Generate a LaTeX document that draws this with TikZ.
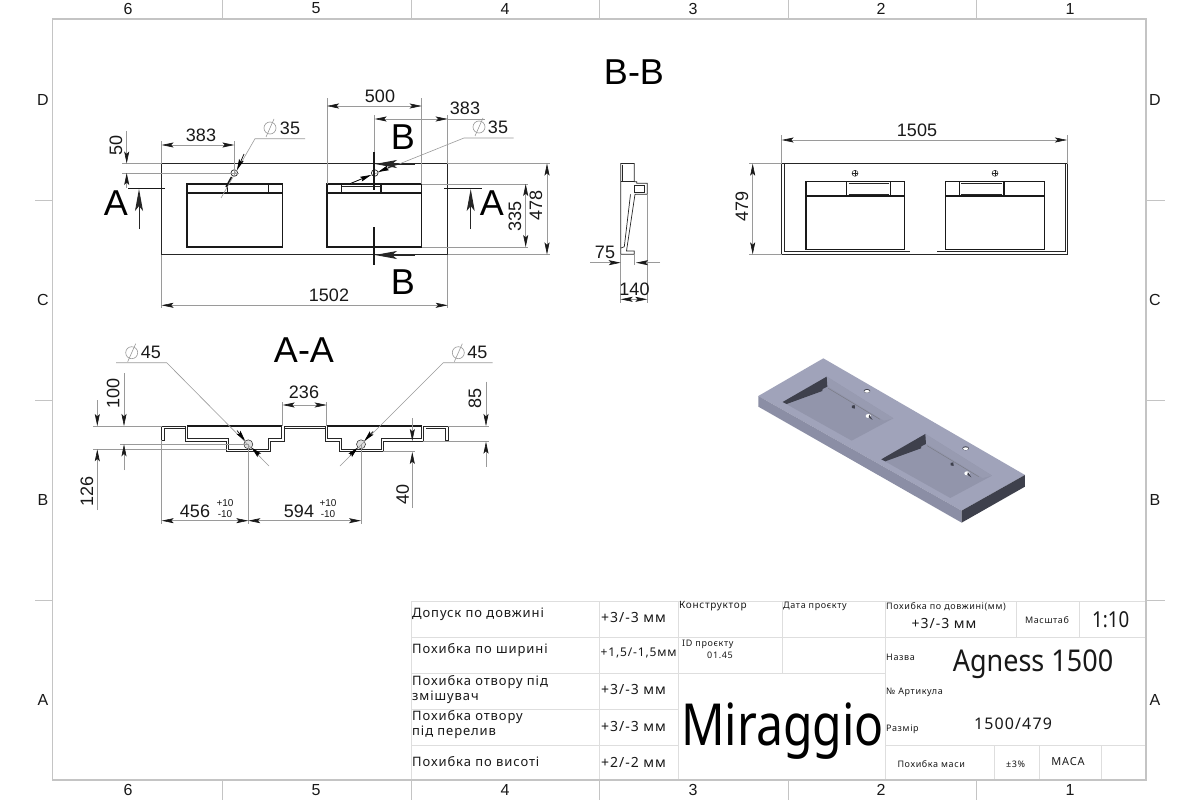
\documentclass[tikz,border=0pt]{standalone}
\usepackage{fontspec}
\setmainfont{Liberation Sans}
\newfontfamily\gostfont[LetterSpace=7]{Noto Sans}
\newfontfamily\brandfont{Noto Sans}
\usetikzlibrary{arrows.meta}
\definecolor{framegrey}{HTML}{C4C4C4}
\definecolor{gridgrey}{HTML}{DEDEDE}
\definecolor{dimgrey}{HTML}{9A9A9A}
\definecolor{faceTop}{HTML}{A0A3BA}
\definecolor{faceFront}{HTML}{8B8EA5}
\definecolor{faceDark}{HTML}{3E404C}
\definecolor{faceFloor}{HTML}{9295AB}
\definecolor{faceWall}{HTML}{989BB1}
\newcommand{\fs}[1]{\fontsize{#1}{#1}\selectfont}
\tikzset{
  framel/.style={draw=framegrey, line width=1.3pt},
  grid/.style={draw=gridgrey, line width=0.8pt},
  obj/.style={draw=black!85, line width=0.7pt},
  heavy/.style={draw=black!90, line width=1.5pt},
  dimen/.style={draw=dimgrey, line width=0.6pt},
  dimtip/.style={{Stealth[length=12pt,width=5pt,inset=2.5pt,color=black!90]}-{Stealth[length=12pt,width=5pt,inset=2.5pt,color=black!90]}, dimen},
  endtip/.style={-{Stealth[length=12pt,width=5pt,inset=2.5pt,color=black!90]}, dimen},
  cuttip/.style={-{Stealth[length=22pt,width=8pt,inset=5pt]}, draw=black!85, line width=0.9pt},
  holetip/.style={-{Stealth[length=11pt,width=5pt,inset=2pt,color=black]}, draw=black, line width=0.7pt},
  dimnum/.style={inner sep=0pt, text=black!90, font=\fs{18}},
  secnum/.style={inner sep=0pt, text=black, font=\fs{36}},
  zonenum/.style={inner sep=0pt, text=black!90, font=\fs{16}},
  tol/.style={inner sep=0pt, text=black!90, font=\fs{10}},
  tbl/.style={inner sep=0pt, anchor=west, text=black!90, font=\gostfont\fs{13}},
  tblsmall/.style={tbl, font=\gostfont\fs{9}},
  tblval/.style={inner sep=0pt, text=black!90, font=\gostfont\fs{14}},
  phimark/.pic={
    \draw[dimen] (0,0) circle (6);
    \draw[dimen] (-4,9) -- (4,-9);
  },
}
\begin{document}
\begin{tikzpicture}[x=1pt,y=-1pt]
\useasboundingbox[fill=white] (0,0) rectangle (1200,800);
% sheet frame and zones
\draw[framel] (52.5,19) rectangle (1146,780);
\foreach \x in {222,411,599,788,976} {
  \draw[framel, line width=0.8pt] (\x,0) -- (\x,19);
  \draw[framel, line width=0.8pt] (\x,780) -- (\x,800);
}
\foreach \y in {200,400,600} {
  \draw[framel, line width=0.8pt] (35,\y) -- (52.5,\y);
  \draw[framel, line width=0.8pt] (1146,\y) -- (1165,\y);
}
\foreach \n/\x in {6/128,5/316,4/505,3/693,2/881,1/1070} {
  \node[zonenum] (top\n) at (\x,8.5) {\n};
  \node[zonenum] (bot\n) at (\x,790) {\n};
}
\foreach \n/\y in {D/100,C/300,B/500,A/700} {
  \node[zonenum] (left\n) at (43,\y) {\n};
  \node[zonenum] (right\n) at (1155,\y) {\n};
}
% front view
\draw[obj] (161.6,163.5) rectangle (447.7,254.5);
\foreach \a/\b/\c/\d in {187/282.3/227.7/268.3, 327/421.7/341.7/381} {
  \draw[heavy] (\a,184) rectangle (\b,247);
  \draw[heavy] (\a,193) -- (\b,193);
  \draw[heavy] (\c,184) -- (\c,193);
  \draw[heavy] (\d,184) -- (\d,193);
}
\draw[obj, line width=0.5pt] (341.7,186) -- (381,186);
\draw[obj] (234.3,173) circle (3.3);
\draw[obj] (374.7,173) circle (3.3);
\draw[dimen] (230,173) -- (238.5,173) (234.3,169) -- (234.3,177);
% dimensions of the front view
\draw[dimen] (161.6,163.5) -- (161.6,141);
\draw[dimen] (234.3,173) -- (234.3,141);
\draw[dimtip] (161.6,145) -- (234.3,145);
\node[dimnum] (d383a) at (201,135) {383};
\draw[dimen] (305,138.7) -- (255,138.7) -- (221,198);
\draw[holetip] (244,154) -- (237,170);
\draw[heavy] (226,187) -- (231.5,177);
\draw (270,128) pic {phimark};
\node[dimnum] (d35a) at (290,128) {35};
\draw[dimen] (122,163.5) -- (161.6,163.5);
\draw[dimen] (122,173) -- (230,173);
\draw[endtip] (126.7,131) -- (126.7,163.5);
\draw[endtip] (126.7,188) -- (126.7,173);
\node[dimnum, rotate=90] (d50) at (116,145) {50};
\draw[dimen] (327,184) -- (327,98);
\draw[dimen] (421.7,184) -- (421.7,98);
\draw[dimtip] (327,106) -- (421.7,106);
\node[dimnum] (d500) at (380,96) {500};
\draw[dimen] (374.7,173) -- (374.7,115);
\draw[dimen] (447.7,163.5) -- (447.7,115);
\draw[dimtip] (374.7,119) -- (447.7,119);
\draw[dimen] (447.7,119) -- (485,119);
\node[dimnum] (d383b) at (465,108) {383};
\draw[dimen] (513.6,138) -- (464,138) -- (350,183.7);
\draw[holetip] (395,165) -- (378,172);
\draw[holetip] (350,183.7) -- (371,175);
\draw (479,127) pic {phimark};
\node[dimnum] (d35b) at (498,127) {35};
\draw[dimen] (421.7,184) -- (528,184);
\draw[dimen] (421.7,247) -- (528,247);
\draw[dimtip] (525.7,184) -- (525.7,247);
\node[dimnum, rotate=90] (d335) at (515,216) {335};
\draw[dimen] (447.7,163.5) -- (550,163.5);
\draw[dimen] (447.7,254.5) -- (550,254.5);
\draw[dimtip] (547,163.5) -- (547,254.5);
\node[dimnum, rotate=90] (d478) at (536,205) {478};
\draw[dimen] (161.6,254.5) -- (161.6,308);
\draw[dimen] (447.7,254.5) -- (447.7,308);
\draw[dimtip] (161.6,305.3) -- (447.7,305.3);
\node[dimnum] (d1502) at (329,295) {1502};
% section marks
\draw[heavy] (128,188.7) -- (165,188.7);
\draw[cuttip] (139,229) -- (139,189);
\node[secnum] (markA1) at (116,203) {A};
\draw[heavy] (444,188.7) -- (482,188.7);
\draw[cuttip] (470.7,229) -- (470.7,189);
\node[secnum] (markA2) at (492,203) {A};
\draw[heavy] (374.2,152) -- (374.2,190);
\draw[cuttip] (415,164) -- (375,164);
\node[secnum] (markB1) at (403,137) {B};
\draw[heavy] (374.2,227) -- (374.2,265);
\draw[cuttip] (415,255) -- (375,255);
\node[secnum] (markB2) at (403,282) {B};
\node[secnum] (titleB) at (634,72) {B-B};
\node[secnum] (titleA) at (304,350) {A-A};
% side section
\draw[obj] (620.7,163.5) -- (634.3,163.5) -- (634.3,181.7) -- (636.7,181.7) -- (636.7,183.3)
  -- (647.3,183.3) -- (647.3,194.3) -- (635,194.3) -- (626.5,251) -- (634.3,251) -- (634.3,254.3)
  -- (620.7,254.3) -- cycle;
\draw[obj] (634,185) rectangle (644,192.3);
\draw[obj] (622.7,164.5) -- (622.7,181.7);
\draw[obj] (620.7,181.7) -- (634.3,181.7);
\draw[obj] (630.5,194.3) -- (624.3,246.7) -- (621,248);
% dimensions of the side section
\draw[dimen] (620.7,254.3) -- (620.7,302.7);
\draw[dimen] (647.3,194.3) -- (647.3,302.7);
\draw[dimen] (634.3,254.3) -- (634.3,265);
\draw[endtip] (590,262.7) -- (620.7,262.7);
\draw[endtip] (660,262.7) -- (636,262.7);
\node[dimnum] (d75) at (605,252) {75};
\draw[dimtip] (620.7,299.3) -- (647.3,299.3);
\node[dimnum] (d140) at (634.5,289) {140};
% back view
\draw[obj, line width=1pt] (781.7,163.7) rectangle (1067,254.3);
\draw[obj] (784.3,163.7) -- (784.3,251.7) -- (910,251.7);
\draw[obj] (937,251.7) -- (1065,251.7) -- (1065,163.7);
\foreach \a/\b/\c/\d in {806/904.7/846.7/890.7, 945.7/1044.3/959.3/1004} {
  \draw[heavy] (\a,181.3) rectangle (\b,249.3);
  \draw[heavy] (\a,196) -- (\b,196);
  \draw[heavy] (\c,181.3) -- (\c,196);
  \draw[heavy] (\d,181.3) -- (\d,196);
  \draw[obj] (\c+2,183.5) -- (\d-2,183.5);
  \draw[obj] (\c+2,194) -- (\d-2,194);
}
\foreach \x in {855,995} {
  \draw[obj, line width=0.5pt] (\x,173.3) circle (3);
  \draw[obj, line width=0.4pt] (\x-3,173.3) -- (\x+3,173.3) (\x,170.3) -- (\x,176.3);
}
\draw[dimen] (781.7,163.7) -- (781.7,135);
\draw[dimen] (1067,163.7) -- (1067,135);
\draw[dimtip] (781.7,140) -- (1067,140);
\node[dimnum] (d1505) at (917,130) {1505};
\draw[dimen] (749,163.7) -- (781.7,163.7);
\draw[dimen] (749,254.3) -- (781.7,254.3);
\draw[dimtip] (752.7,163.7) -- (752.7,254.3);
\node[dimnum, rotate=90] (d479) at (742,206) {479};
% section A-A
\draw[obj, line width=1pt] (161.7,440) -- (161.7,426) -- (185.7,426) -- (185.7,441) -- (226.7,441) -- (226.7,451.7)
  -- (270,451.7) -- (270,441) -- (284,441) -- (284,426) -- (325,426) -- (325,441) -- (339.3,441) -- (339.3,451.7)
  -- (383.3,451.7) -- (383.3,441) -- (423.3,441) -- (423.3,426) -- (448.3,426) -- (448.3,440) -- (445,440)
  -- (445,428.3) -- (425.5,428.3);
\draw[obj, line width=1pt] (161.7,440) -- (164,440) -- (164,428.3) -- (185.7,428.3);
\draw[heavy] (187.3,426) -- (281.7,426);
\draw[obj, line width=1pt] (187.3,426) -- (187.3,438.3) -- (228.3,438.3) -- (228.3,449.3) -- (268.3,449.3) -- (268.3,438.3)
  -- (281.7,438.3) -- (281.7,426);
\draw[obj] (284,428.3) -- (325,428.3);
\draw[heavy] (327.3,426) -- (421.7,426);
\draw[obj, line width=1pt] (327.3,426) -- (327.3,438.3) -- (341.7,438.3) -- (341.7,449.3) -- (381,449.3) -- (381,438.3)
  -- (421.7,438.3) -- (421.7,426);
\draw[obj, line width=0.5pt, fill=black!12] (248.3,444.3) circle (4.5);
\draw[obj, line width=0.5pt, fill=black!12] (361,444.3) circle (4.5);
% dimensions of section A-A
\draw[dimen] (116,362.7) -- (166.7,362.7) -- (269,466);
\draw[holetip] (237,430.5) -- (245.2,441);
\draw[holetip] (259,455) -- (251.5,447.5);
\draw (131.7,352.7) pic {phimark};
\node[dimnum] (d45a) at (151,352.7) {45};
\draw[dimen] (492.7,362.7) -- (443.3,362.7) -- (340,466);
\draw[holetip] (373,431.5) -- (364.3,441);
\draw[holetip] (350,455.5) -- (357.8,447.5);
\draw (458.3,352.7) pic {phimark};
\node[dimnum] (d45b) at (477.3,352.7) {45};
\draw[dimen] (93,426) -- (161.7,426);
\draw[dimen] (93,449.3) -- (226.7,449.3);
\draw[dimen] (120,444.3) -- (248.3,444.3);
\draw[endtip] (124,373) -- (124,426);
\draw[endtip] (124,470) -- (124,444.3);
\node[dimnum, rotate=90] (d100) at (113.3,393) {100};
\draw[endtip] (97.3,400) -- (97.3,426);
\draw[endtip] (97.3,510) -- (97.3,449.3);
\node[dimnum, rotate=90] (d126) at (87,491) {126};
\draw[dimen] (282.7,426) -- (282.7,402);
\draw[dimen] (326.7,426) -- (326.7,402);
\draw[dimtip] (282.7,405) -- (326.7,405);
\node[dimnum] (d236) at (304,392) {236};
\draw[dimen] (161.7,440) -- (161.7,524);
\draw[dimen] (248.3,444.3) -- (248.3,524);
\draw[dimen] (361,444.3) -- (361,524);
\draw[dimtip] (161.7,520.7) -- (248.3,520.7);
\draw[dimtip] (248.3,520.7) -- (361,520.7);
\node[dimnum] (d456) at (195,511) {456};
\node[tol] (d456p) at (225,503.5) {+10};
\node[tol] (d456m) at (225,514) {-10};
\node[dimnum] (d594) at (299,511) {594};
\node[tol] (d594p) at (328,503.5) {+10};
\node[tol] (d594m) at (328,514) {-10};
\draw[dimen] (448.3,426) -- (489,426);
\draw[dimen] (423.3,441.7) -- (489,441.7);
\draw[endtip] (486,381.7) -- (486,426);
\draw[endtip] (486,466.7) -- (486,441.7);
\node[dimnum, rotate=90] (d85) at (475,398) {85};
\draw[dimen] (383.3,451.7) -- (415,451.7);
\draw[endtip] (412.3,418) -- (412.3,441);
\draw[endtip] (412.3,508) -- (412.3,452);
\node[dimnum, rotate=90] (d40) at (402.7,494) {40};
% isometric view
\begin{scope}[shift={(740,340)}, x=0.3333pt, y=-0.3333pt]
  \fill[faceTop] (250,55) -- (855,405) -- (665,512) -- (55,168) -- cycle;
  \fill[faceFront] (55,168) -- (665,512) -- (665,548) -- (55,200) -- cycle;
  \fill[faceDark] (665,512) -- (855,405) -- (855,440) -- (665,548) -- cycle;
  \foreach \dx/\dy in {0/0, 296/172} {
    \begin{scope}[shift={(\dx,\dy)}]
      \fill[faceFloor] (128,186) -- (260,110) -- (460,235) -- (335,302) -- cycle;
      \fill[faceWall] (260,110) -- (460,235) -- (432,242) -- (262,138) -- cycle;
      \draw[faceDark!70, line width=0.4pt] (265,145) -- (420,238);
      \fill[faceDark] (128,186) -- (260,110) -- (262,140) -- (248,147) -- (247,153) -- (140,192) -- cycle;
      \fill[faceDark] (336,197) -- (344,195) -- (345,206) -- (336,204) -- cycle;
      \fill[white] (385,228) ellipse (8 and 6);
      \fill[faceDark] (388,224) -- (398,240) -- (386,232) -- cycle;
      \fill[faceDark] (381,153) ellipse (10 and 6);
      \fill[white] (381,154) ellipse (8 and 4);
    \end{scope}
  }
\end{scope}
% title block
\draw[grid] (411,601) rectangle (1146,780);
\draw[grid] (411,637) -- (885.7,637);
\draw[grid] (411,673.3) -- (885.7,673.3);
\draw[grid] (411,709.3) -- (678.7,709.3);
\draw[grid] (411,745.3) -- (678.7,745.3);
\draw[grid] (599.7,601) -- (599.7,780);
\draw[grid] (678.7,601) -- (678.7,780);
\draw[grid] (782.3,601) -- (782.3,673.3);
\draw[grid] (885.7,601) -- (885.7,780);
\draw[grid] (885.7,637) -- (1146,637);
\draw[grid] (885.7,745.3) -- (1146,745.3);
\draw[grid] (1016,601) -- (1016,637);
\draw[grid] (1079.3,601) -- (1079.3,637);
\draw[grid] (994.3,745.3) -- (994.3,780);
\draw[grid] (1039.3,745.3) -- (1039.3,780);
\draw[grid] (1101.7,745.3) -- (1101.7,780);
\draw[framel] (1146,601) -- (1146,780) -- (52.5,780);
\node[tbl] (rowA) at (412,614) {Допуск по довжині};
\node[tbl] (rowB) at (412,650) {Похибка по ширині};
\node[tbl] (rowC) at (412,682) {Похибка отвору під};
\node[tbl] (rowCb) at (412,697) {змішувач};
\node[tbl] (rowD) at (412,717) {Похибка отвору};
\node[tbl] (rowDb) at (412,732) {під перелив};
\node[tbl] (rowE) at (412,762) {Похибка по висоті};
\node[tbl, font=\gostfont\fs{14}] (valA) at (601,617) {+3/-3 мм};
\node[tbl, font=\gostfont\fs{12}] (valB) at (600.5,653) {+1,5/-1,5мм};
\node[tbl, font=\gostfont\fs{14}] (valC) at (601,689) {+3/-3 мм};
\node[tbl, font=\gostfont\fs{14}] (valD) at (601,726) {+3/-3 мм};
\node[tbl, font=\gostfont\fs{14}] (valE) at (601,762) {+2/-2 мм};
\node[tblsmall, font=\gostfont\fs{10}] (designer) at (679,606) {Конструктор};
\node[tblsmall] (projdate) at (783,606) {Дата проєкту};
\node[tblsmall] (projid) at (682,644) {ID проєкту};
\node[tblval, font=\gostfont\fs{9}] (projnum) at (720,655) {01.45};
\node[inner sep=0pt, anchor=base west, xscale=0.83, text=black, font=\brandfont\fs{58}] (brand) at (681,745) {Miraggio};
\node[tblsmall] (lenerr) at (886,607) {Похибка по довжині(мм)};
\node[tblval] (lenval) at (944,623) {+3/-3 мм};
\node[tblval, font=\gostfont\fs{9}] (scalename) at (1047,620) {Масштаб};
\node[tblval, xscale=0.85, font=\brandfont\fs{22}] (scaleval) at (1110.7,620) {1:10};
\node[tblsmall] (namelbl) at (886,657) {Назва};
\node[tblval, xscale=0.9, font=\brandfont\fs{30}] (nameval) at (1033,664) {Agness 1500};
\node[tblsmall] (artlbl) at (886,692) {№ Артикула};
\node[tblsmall] (sizelbl) at (886,729) {Размір};
\node[tblval, font=\gostfont\fs{16}] (sizeval) at (1013,724) {1500/479};
\node[tblsmall] (masslbl) at (897.3,764) {Похибка маси};
\node[tblval, font=\gostfont\fs{9}] (massval) at (1015.7,764) {±3\%};
\node[tblval, font=\gostfont\fs{11}] (masstag) at (1068,762) {МАСА};
\end{tikzpicture}
\end{document}
